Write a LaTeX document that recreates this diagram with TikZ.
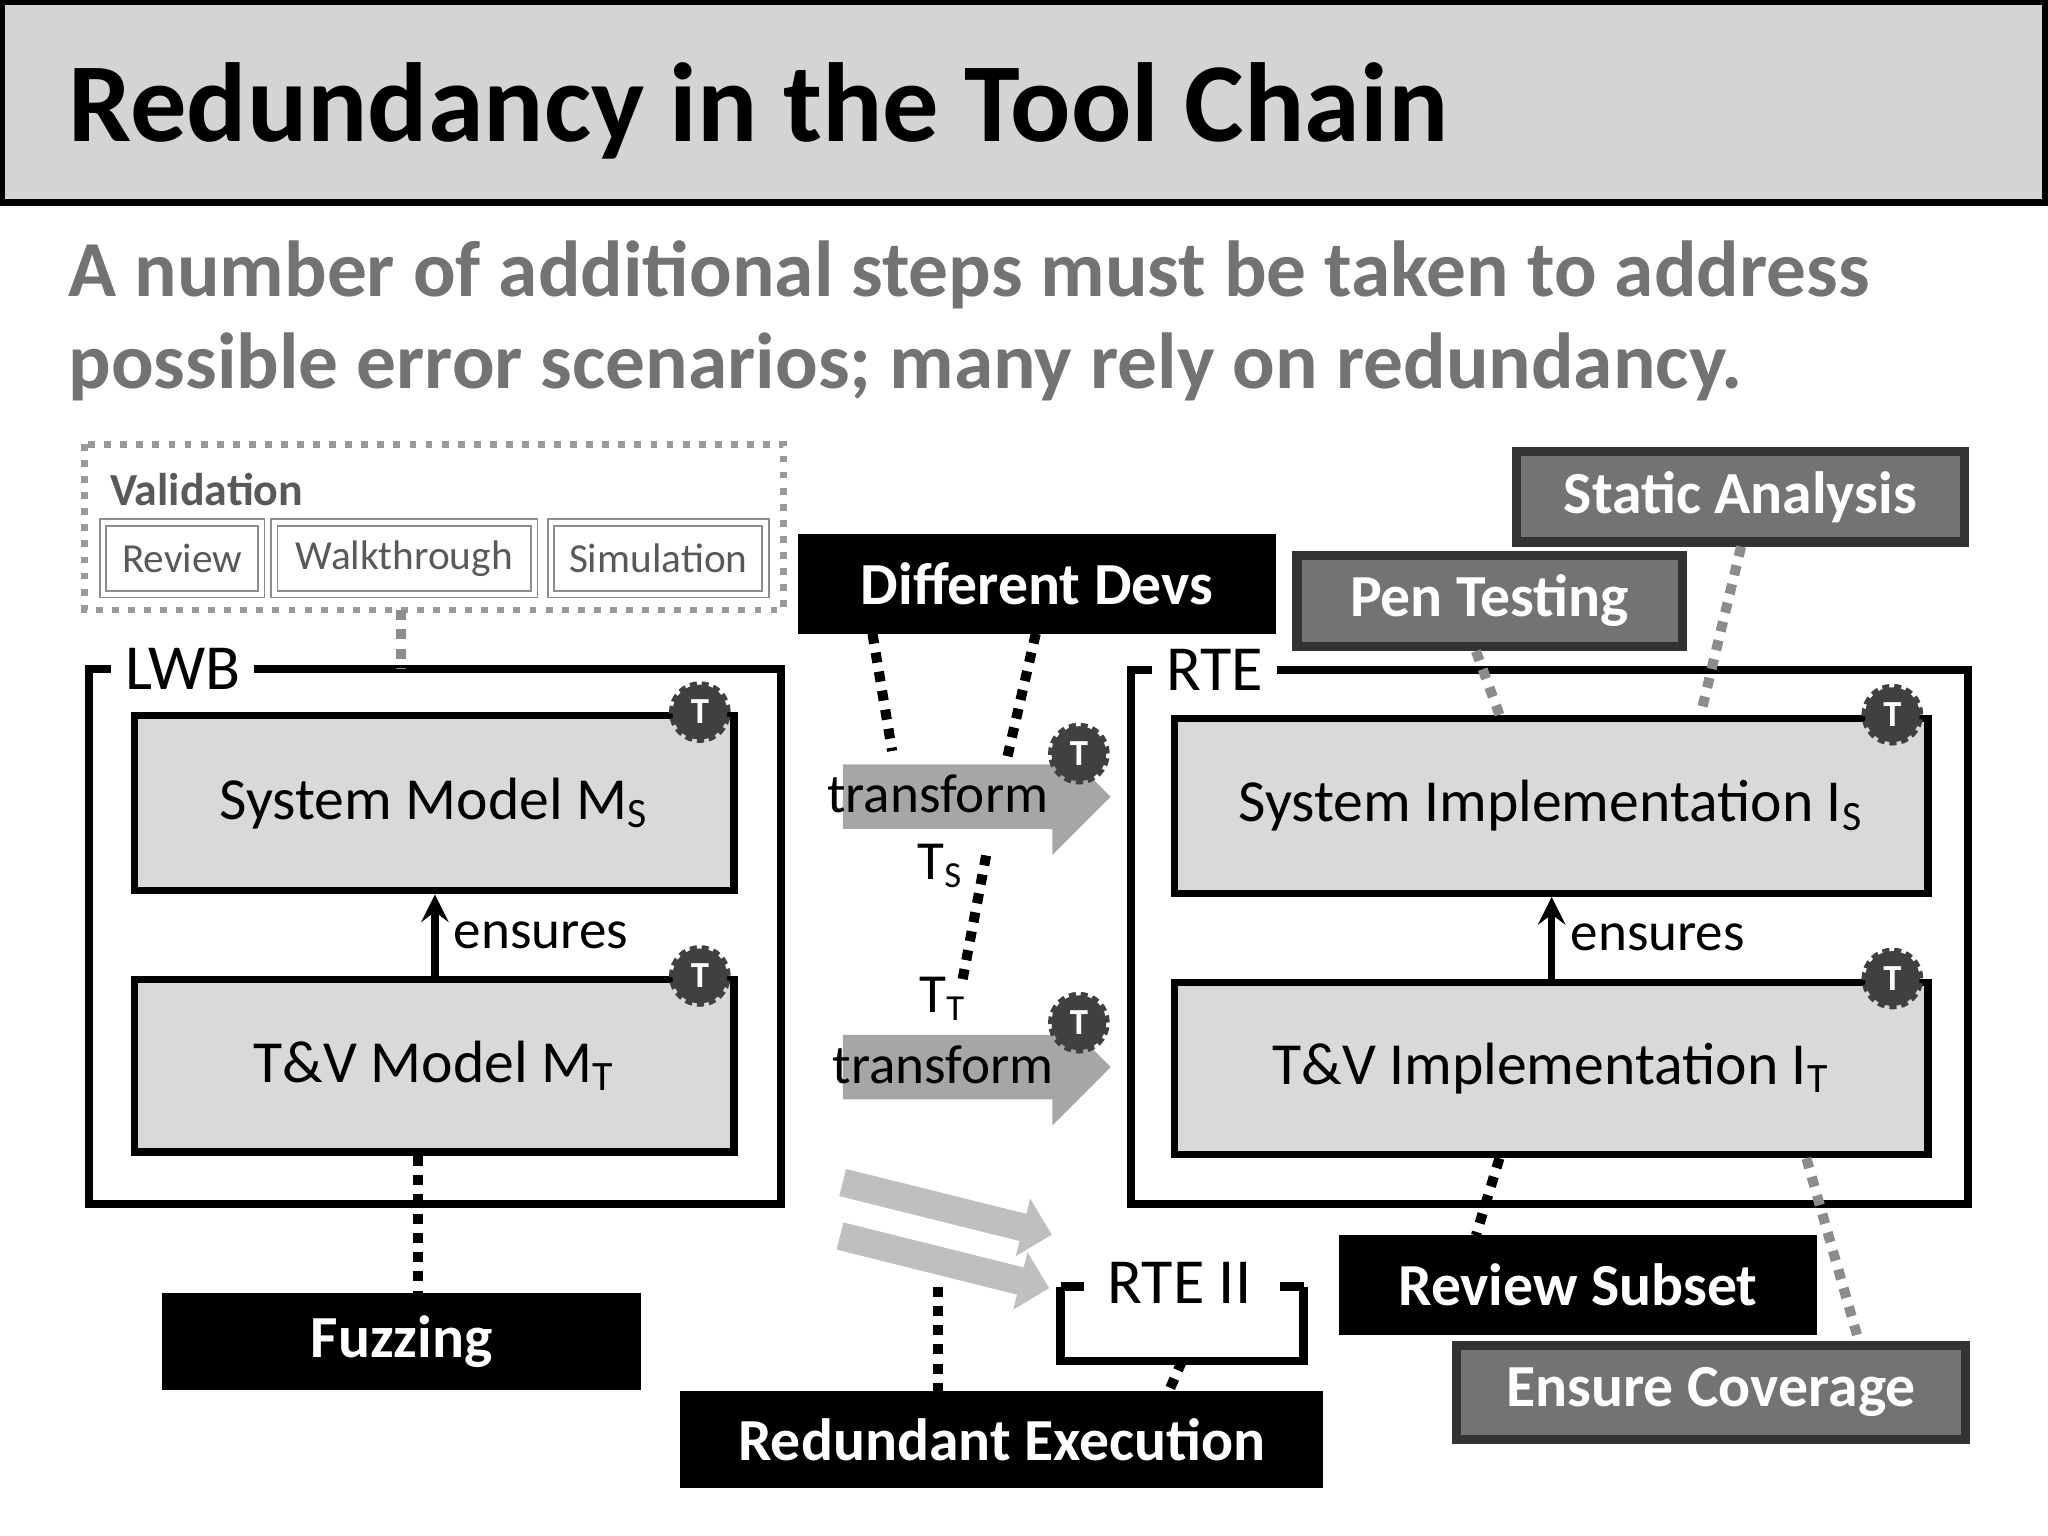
\documentclass[tikz,border=0pt]{standalone}
\usepackage{fontspec}
\setmainfont{Carlito}
\usetikzlibrary{shapes.arrows}
\begin{document}
\begin{tikzpicture}[
    box/.style={draw, line width=1.6pt, fill=black!15, font=\fontsize{13}{15}\selectfont},
    frame/.style={draw, line width=1.8pt},
    framelabel/.style={fill=white, font=\fontsize{14}{16}\selectfont, inner sep=3pt},
    blackbox/.style={draw, line width=1.2pt, fill=black, text=white, font=\fontsize{13}{15}\selectfont\bfseries},
    graybox/.style={draw=black!80, line width=2pt, fill=black!55, text=white, font=\fontsize{13}{15}\selectfont\bfseries},
    valbox/.style={draw=black!45, double, double distance=1pt, text=black!65, font=\fontsize{9}{11}\selectfont},
    tbadge/.style={circle, fill=black!75, draw=black!75, line width=1.5pt, dash pattern=on 1.5pt off 1pt,
        text=white, font=\fontsize{8}{9}\selectfont\bfseries, inner sep=0pt, minimum size=0.42cm},
    blockarrow/.style={single arrow, fill=black!35, draw=none, minimum height=2.05cm,
        inner ysep=0.24cm, inner xsep=0pt, single arrow head extend=0.2cm},
    diagarrow/.style={single arrow, fill=black!25, draw=none, minimum height=1.65cm,
        inner ysep=0.1cm, inner xsep=0pt, single arrow head extend=0.12cm, rotate=-14},
    tagline/.style={line width=2.2pt, dotted},
    graytag/.style={line width=2.2pt, dotted, black!45},
    ensure/.style={->, >=stealth, line width=1.6pt}
]
\useasboundingbox (0,0) rectangle (15.68,-11.76);
% title
\draw[line width=1.5pt, fill=black!17] (0.01,-0.01) rectangle (15.66,-1.55);
\node[anchor=west, font=\fontsize{24.5}{28}\selectfont\bfseries] (title) at (0.4,-0.85) {Redundancy in the Tool Chain};
\node[anchor=north west, align=left, text=black!55, font=\fontsize{17.3}{20}\selectfont\bfseries] (sub) at (0.4,-1.72)
    {A number of additional steps must be taken to address\\possible error scenarios; many rely on redundancy.};

% validation
\draw[black!40, line width=1.5pt, dotted] (0.65,-3.40) rectangle (6.00,-4.67);
\node[anchor=west, text=black!65, font=\fontsize{10}{12}\selectfont\bfseries] (valtitle) at (0.72,-3.75) {Validation};
\node[valbox, minimum width=1.21cm, minimum height=0.55cm] (review) at (1.395,-4.275) {Review};
\node[valbox, minimum width=1.99cm, minimum height=0.55cm] (walk) at (3.095,-4.275) {Walkthrough};
\node[valbox, minimum width=1.64cm, minimum height=0.55cm] (sim) at (5.04,-4.275) {Simulation};
\coordinate (valbot) at (3.07,-4.67);

% LWB
\draw[frame] (0.68,-5.12) rectangle (5.98,-9.22);
\node[framelabel] (lwb) at (1.40,-5.12) {LWB};
\node[box, minimum width=4.59cm, minimum height=1.34cm] (sysmodel) at (3.325,-6.15) {System Model M\textsubscript{S}};
\node[box, minimum width=4.59cm, minimum height=1.32cm] (tvmodel) at (3.325,-8.16) {T\&V Model M\textsubscript{T}};
\draw[ensure] (tvmodel.north -| 3.33,0) -- node[right, font=\fontsize{12}{14}\selectfont] {ensures} (sysmodel.south -| 3.33,0);
\node[tbadge] (t1) at (sysmodel.north east) [xshift=-0.29cm] {T};
\node[tbadge] (t2) at (tvmodel.north east) [xshift=-0.29cm] {T};
\draw[graytag] (valbot) -- (3.07,-5.12);

% RTE
\draw[frame] (8.66,-5.13) rectangle (15.07,-9.22);
\node[framelabel] (rte) at (9.30,-5.13) {RTE};
\node[box, minimum width=5.77cm, minimum height=1.34cm] (sysimpl) at (11.875,-6.17) {System Implementation I\textsubscript{S}};
\node[box, minimum width=5.77cm, minimum height=1.32cm] (tvimpl) at (11.875,-8.18) {T\&V Implementation I\textsubscript{T}};
\draw[ensure] (tvimpl.north -| 11.88,0) -- node[right, font=\fontsize{12}{14}\selectfont] {ensures} (sysimpl.south -| 11.88,0);
\node[tbadge] (t3) at (sysimpl.north east) [xshift=-0.3cm] {T};
\node[tbadge] (t4) at (tvimpl.north east) [xshift=-0.3cm] {T};

% transformations
\node[blockarrow] (trs) at (7.355,-6.10) {};
\node[font=\fontsize{12}{14}\selectfont] (trstext) at (7.18,-6.08) {transform};
\node[blockarrow] (trt) at (7.355,-8.17) {};
\node[font=\fontsize{12}{14}\selectfont] (trttext) at (7.22,-8.15) {transform};
\node[tbadge] (t5) at (8.26,-5.77) {T};
\node[tbadge] (t6) at (8.26,-7.83) {T};
\node[font=\fontsize{12}{14}\selectfont] (ts) at (7.20,-6.63) {T\textsubscript{S}};
\node[font=\fontsize{12}{14}\selectfont] (tt) at (7.22,-7.65) {T\textsubscript{T}};

% different devs
\node[blackbox, minimum width=3.62cm, minimum height=0.72cm] (devs) at (7.94,-4.47) {Different Devs};
\draw[tagline] (devs.south -| 6.68,0) -- (6.83,-5.75);
\draw[tagline] (devs.south -| 7.93,0) -- (7.70,-5.85);
\draw[tagline] (7.55,-6.55) -- (7.36,-7.55);

% testing
\node[graybox, minimum width=3.43cm, minimum height=0.69cm] (static) at (13.325,-3.805) {Static Analysis};
\node[graybox, minimum width=2.95cm, minimum height=0.70cm] (pen) at (11.405,-4.60) {Pen Testing};
\draw[graytag] (pen.south -| 11.30,0) -- (sysimpl.north -| 11.48,0);
\draw[graytag] (static.south -| 13.33,0) -- (sysimpl.north -| 13.02,0);
\node[blackbox, minimum width=3.62cm, minimum height=0.72cm] (revsub) at (12.08,-9.84) {Review Subset};
\node[graybox, minimum width=3.90cm, minimum height=0.72cm] (cover) at (13.10,-10.66) {Ensure Coverage};
\draw[tagline] (tvimpl.south -| 11.48,0) -- (revsub.north -| 11.30,0);
\draw[graytag] (tvimpl.south -| 13.83,0) -- (cover.north -| 14.23,0);

% fuzzing
\node[blackbox, minimum width=3.63cm, minimum height=0.70cm] (fuzz) at (3.075,-10.27) {Fuzzing};
\draw[tagline] (tvmodel.south -| 3.20,0) -- (fuzz.north -| 3.20,0);

% redundant execution
\node[diagarrow] (d1) at (7.20,-9.24) {};
\node[diagarrow] (d2) at (7.18,-9.65) {};
\draw[line width=1.8pt] (8.12,-9.85) -- (8.12,-10.42) -- (9.98,-10.42) -- (9.98,-9.85);
\draw[line width=1.8pt] (8.12,-9.85) -- (8.30,-9.85);
\draw[line width=1.8pt] (9.80,-9.85) -- (9.98,-9.85);
\node[font=\fontsize{14}{16}\selectfont, inner sep=1pt] (rte2) at (9.03,-9.82) {RTE II};
\node[blackbox, minimum width=4.88cm, minimum height=0.70cm] (redex) at (7.67,-11.02) {Redundant Execution};
\coordinate (redtop) at (7.18,-9.85);
\draw[tagline] (redtop) -- (redex.north -| 7.18,0);
\draw[tagline] (9.05,-10.42) -- (redex.north -| 8.95,0);
\end{tikzpicture}
\end{document}
